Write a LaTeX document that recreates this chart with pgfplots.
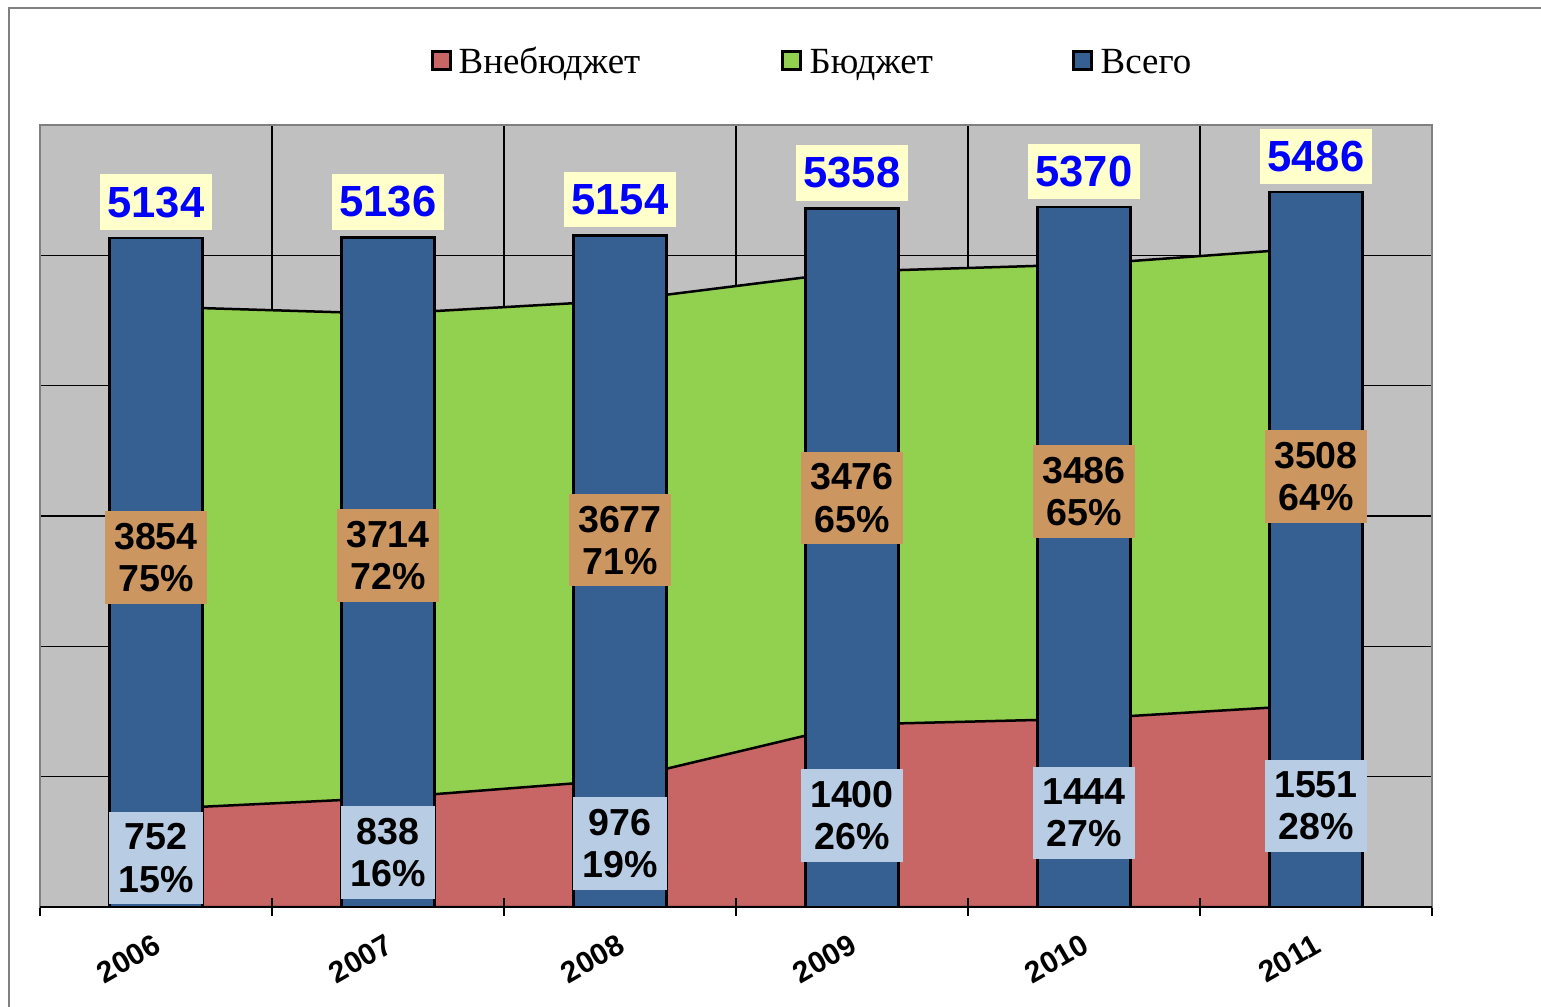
\documentclass[border=0pt]{standalone}
\usepackage{fontspec}
\setmainfont{Liberation Serif}
\setsansfont{Liberation Sans}
\usepackage{pgfplots}
\pgfplotsset{compat=1.18}

\definecolor{plotGrey}{HTML}{C0C0C0}
\definecolor{frameGrey}{HTML}{808080}
\definecolor{clrRed}{HTML}{C76665}
\definecolor{clrGreen}{HTML}{92D050}
\definecolor{clrBlue}{HTML}{366092}
\definecolor{boxBlue}{HTML}{B8CCE4}
\definecolor{boxTan}{HTML}{CC9660}
\definecolor{boxYellow}{HTML}{FFFFCC}

\tikzset{
  lbl/.style={font=\sffamily\bfseries\fontsize{10.7}{12}\selectfont,
    align=center, inner xsep=2.6pt, inner ysep=3.4pt, text=black},
  leg/.style={font=\fontsize{10.5}{12}\selectfont, anchor=base west, inner sep=0pt},
}

\begin{document}
\begin{tikzpicture}
\path[use as bounding box] (0,0) rectangle (15.41,10.06);
\draw[frameGrey, line width=0.2mm] (0.09,-0.2) -- (0.09,9.98) -- (15.6,9.98);

% legend
\draw[black, line width=0.3mm, fill=clrRed]   (4.32,9.37) rectangle (4.50,9.55);
\node[leg] at (4.58,9.33) {Внебюджет};
\draw[black, line width=0.3mm, fill=clrGreen] (7.82,9.37) rectangle (8.00,9.55);
\node[leg] at (8.09,9.33) {Бюджет};
\draw[black, line width=0.3mm, fill=clrBlue]  (10.73,9.37) rectangle (10.91,9.55);
\node[leg] at (11.00,9.33) {Всего};

\begin{axis}[
  at={(0.40cm,0.99cm)}, anchor=south west,
  scale only axis, width=13.92cm, height=7.82cm,
  xmin=-0.5, xmax=5.5, ymin=0, ymax=6000,
  axis background/.style={fill=plotGrey},
  axis line style={draw=frameGrey, line width=0.25mm},
  xtick={0,1,2,3,4,5},
  xticklabels={2006,2007,2008,2009,2010,2011},
  minor xtick={-0.5,0.5,...,5.5},
  ytick={1000,2000,...,5000}, yticklabels={},
  xmajorgrids=false, xminorgrids=true, ymajorgrids=true,
  major grid style={black, line width=0.12mm},
  minor grid style={black, line width=0.12mm},
  y tick style={draw=none},
  x tick style={black, line width=0.12mm},
  xtick pos=left, tick align=center,
  major tick length=0pt, minor tick length=0.18cm,
  x tick label style={rotate=30, anchor=north east,
      font=\sffamily\bfseries\fontsize{8.5}{10}\selectfont,
      xshift=-0.04cm, yshift=-0.08cm},
]
% budget (stacked on off-budget)
\addplot[fill=clrGreen, draw=black, line width=0.25mm]
  coordinates {(0,4606)(1,4552)(2,4653)(3,4876)(4,4930)(5,5059)} \closedcycle;
% off-budget
\addplot[fill=clrRed, draw=black, line width=0.25mm]
  coordinates {(0,752)(1,838)(2,976)(3,1400)(4,1444)(5,1551)} \closedcycle;
% total
\addplot[ybar, bar width=0.4, bar shift=0pt, fill=clrBlue, draw=black,
  line width=0.25mm, point meta=explicit symbolic,
  nodes near coords,
  every node near coord/.append style={anchor=south, yshift=0.08cm,
    fill=boxYellow, text=blue, line width=0pt,
    font=\sffamily\bfseries\fontsize{12.4}{14}\selectfont,
    inner xsep=2.2pt, inner ysep=3.5pt}]
  coordinates {(0,5134)[5134] (1,5136)[5136] (2,5154)[5154]
               (3,5358)[5358] (4,5370)[5370] (5,5486)[5486]};

\draw[black, line width=0.3mm] (rel axis cs:0,0) -- (rel axis cs:1,0);
\pgfplotsinvokeforeach{0.5,1.5,2.5,3.5,4.5}{
  \draw[black, line width=0.12mm] ([yshift=-0.09cm]axis cs:#1,0) -- ([yshift=0.09cm]axis cs:#1,0);}

% off-budget labels
\node[lbl, fill=boxBlue] at (axis cs:0,376)  {752\\15\%};
\node[lbl, fill=boxBlue] at (axis cs:1,419)  {838\\16\%};
\node[lbl, fill=boxBlue] at (axis cs:2,488)  {976\\19\%};
\node[lbl, fill=boxBlue] at (axis cs:3,700)  {1400\\26\%};
\node[lbl, fill=boxBlue] at (axis cs:4,722)  {1444\\27\%};
\node[lbl, fill=boxBlue] at (axis cs:5,776)  {1551\\28\%};
% budget labels
\node[lbl, fill=boxTan] at (axis cs:0,2679) {3854\\75\%};
\node[lbl, fill=boxTan] at (axis cs:1,2695) {3714\\72\%};
\node[lbl, fill=boxTan] at (axis cs:2,2815) {3677\\71\%};
\node[lbl, fill=boxTan] at (axis cs:3,3138) {3476\\65\%};
\node[lbl, fill=boxTan] at (axis cs:4,3187) {3486\\65\%};
\node[lbl, fill=boxTan] at (axis cs:5,3305) {3508\\64\%};
\end{axis}
\end{tikzpicture}
\end{document}
